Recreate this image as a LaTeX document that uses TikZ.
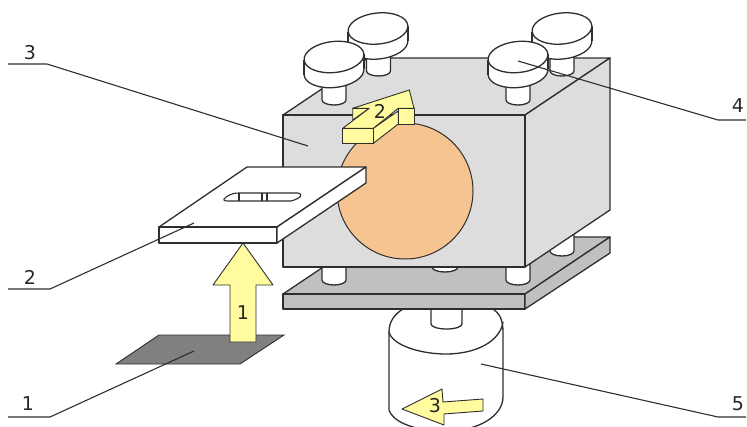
\documentclass[tikz,border=0pt]{standalone}
\usepackage{fontspec}
\setmainfont{DejaVu Sans}
\definecolor{ink}{HTML}{2E2E2E}
\definecolor{boxgray}{HTML}{DDDDDD}
\definecolor{plategray}{HTML}{C0C0C0}
\definecolor{darkgray2}{HTML}{808080}
\definecolor{peach}{HTML}{F6C490}
\definecolor{yel}{HTML}{FFFB9E}
\tikzset{
  part/.style={draw=ink,line width=1.3pt,line join=round},
  whitepart/.style={part,fill=white},
  boxface/.style={part,fill=boxgray},
  plateface/.style={part,fill=plategray},
  arrowface/.style={draw=ink,line width=0.9pt,line join=round,fill=yel},
  leader/.style={draw=ink,line width=1.1pt},
  numlabel/.style={font=\fontsize{19}{19}\selectfont,text=black!85,inner sep=0pt}
}
% stem: centre x, top y, bottom y, half width
\newcommand{\boltstem}[4]{%
  \path[whitepart] (#1-#4,#2) -- (#1-#4,#3-4) arc[start angle=180,end angle=360,x radius=#4pt,y radius=5pt] -- (#1+#4,#2) -- cycle;
  \fill[white] (#1-#4+0.7,#2-0.7) rectangle (#1+#4-0.7,#2+0.7);}
% head: centre x, centre y of top ellipse
\newcommand{\bolthead}[2]{%
  \path[whitepart,rotate around={6:(#1,#2+15)}] (#1,#2+15) ellipse[x radius=30pt,y radius=15.5pt];
  \fill[white] (#1-30,#2+3) -- (#1+30,#2-3) -- (#1+30,#2+12) -- (#1-30,#2+18) -- cycle;
  \draw[part] (#1-30,#2+3) -- (#1-30,#2+18) (#1+30,#2-3) -- (#1+30,#2+12);
  \path[whitepart,rotate around={6:(#1,#2)}] (#1,#2) ellipse[x radius=30pt,y radius=15.5pt];}
\begin{document}
\begin{tikzpicture}[x=1pt,y=-1pt]
\useasboundingbox (0,0) rectangle (747,426);
\clip (0,0) rectangle (747,426);
% motor
\path[whitepart] (389,332) -- (389,410) .. controls (392,420) and (410,431) .. (446,431) .. controls (480,431) and (503,415) .. (503,397) -- (503,332) .. controls (503,319) and (499,313) .. (493,309) -- (493,300) -- (403,300) -- (403,309) .. controls (395,314) and (389,321) .. (389,332) -- cycle;
\draw[part] (389,332) .. controls (392,345) and (420,354) .. (446,354) .. controls (475,354) and (500,342) .. (503,322);
\boltstem{446.5}{300}{328}{15.5}
% lower plate
\path[plateface] (283,294) -- (368,237) -- (610,237) -- (525,294) -- cycle;
\path[plateface] (283,294) rectangle (525,309);
\path[plateface] (525,294) -- (610,237) -- (610,253) -- (525,309) -- cycle;
% lower stems
\boltstem{562}{205}{255}{12}
\boltstem{445}{255}{271}{13}
\boltstem{334}{255}{284}{12}
\boltstem{518}{255}{284}{12}
% box
\path[boxface] (283,115) -- (368,58) -- (610,58) -- (525,115) -- cycle;
\path[boxface] (525,115) -- (610,58) -- (610,210) -- (525,267) -- cycle;
\path[boxface] (283,115) rectangle (525,267);
% circle
\path[part,fill=peach,line width=1pt] (405,191) circle[radius=68pt];
% upper bolts
\boltstem{378.5}{50}{75}{12}
\boltstem{562}{50}{75}{12}
\bolthead{378}{28.5}
\bolthead{562}{28.5}
\boltstem{334}{80}{104}{12}
\boltstem{518}{80}{104}{12}
\bolthead{334}{57}
\bolthead{518}{57}
% arrow 2
\path[arrowface] (414,108.3) rectangle (398.3,124);
\path[arrowface] (352.7,108.3) -- (369.3,108.3) -- (352.7,120) -- cycle;
\path[arrowface] (373.3,128.3) -- (398.3,111) -- (398.3,124) -- (373.3,143.3) -- cycle;
\path[arrowface] (342.7,128.3) rectangle (373.3,143.3);
\path[arrowface] (342.7,128.3) -- (369.3,108.3) -- (352.7,108.3) -- (409.3,90) -- (414,108.3) -- (398.3,108.3) -- (373.3,128.3) -- cycle;
\node[numlabel] (n2) at (380,111) {2};
% sample plate
\path[whitepart] (159,227) -- (247,167) -- (366,167) -- (277,227) -- cycle;
\path[whitepart] (159,227) rectangle (277,243);
\path[whitepart] (277,227) -- (366,167) -- (366,183) -- (277,243) -- cycle;
\path[whitepart,line width=1.1pt] (224,199) .. controls (227,196) and (231,193) .. (239,193) -- (298,193) .. controls (303,194) and (302,198) .. (291,201) -- (228,201) .. controls (224,201) and (223,200) .. (224,199) -- cycle;
\draw[part,line width=1.1pt] (239,193) -- (239,201) (262,193) -- (262,201) (267,193) -- (267,201);
% dark patch
\path[fill=darkgray2,draw=ink,line width=0.9pt] (159,335) -- (284,335) -- (240,364) -- (116,364) -- cycle;
% arrow 1
\path[arrowface] (243,243) -- (273,285) -- (256,285) -- (256,342) -- (230,342) -- (230,285) -- (213,285) -- cycle;
\node[numlabel] (n1) at (243,313) {1};
% arrow 3
\path[arrowface] (402,409) -- (442,389) -- (443,402) -- (483,399) -- (483,411) -- (444,414) -- (444,425) -- cycle;
\node[numlabel] (n3) at (435,406) {3};
% leaders
\node[numlabel] (lab3) at (30,53) {3};
\node[numlabel] (lab2) at (30,277) {2};
\node[numlabel] (lab1) at (28,404) {1};
\node[numlabel] (lab4) at (738,106) {4};
\node[numlabel] (lab5) at (738,404) {5};
\coordinate (a3) at (8,64); \coordinate (b3) at (47,64); \coordinate (c3) at (308,146);
\coordinate (a2) at (8,289); \coordinate (b2) at (50,289); \coordinate (c2) at (194,223);
\coordinate (a1) at (8,417); \coordinate (b1) at (50,417); \coordinate (c1) at (194,351);
\coordinate (a4) at (746,120); \coordinate (b4) at (718,120); \coordinate (c4) at (518,61);
\coordinate (a5) at (746,417); \coordinate (b5) at (718,417); \coordinate (c5) at (481,364);
\draw[leader] (a3) -- (b3) -- (c3);
\draw[leader] (a2) -- (b2) -- (c2);
\draw[leader] (a1) -- (b1) -- (c1);
\draw[leader] (a4) -- (b4) -- (c4);
\draw[leader] (a5) -- (b5) -- (c5);
\end{tikzpicture}
\end{document}
